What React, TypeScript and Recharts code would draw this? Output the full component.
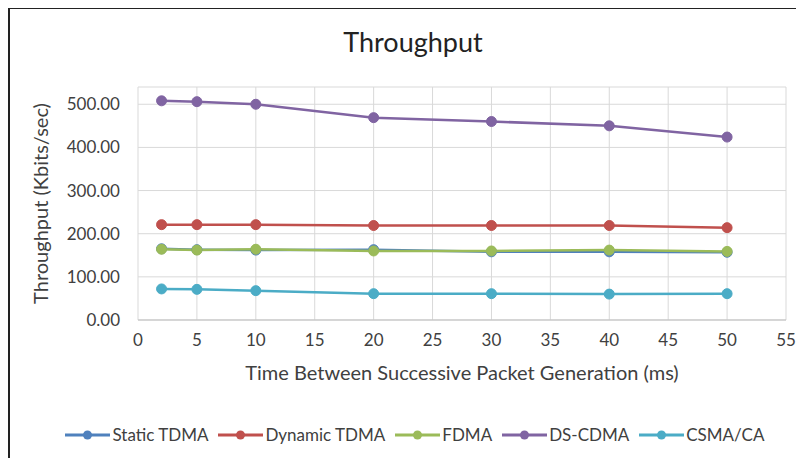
import React from 'react';
import { LineChart, Line, XAxis, YAxis, CartesianGrid, Legend } from 'recharts';

const intervals = [2, 5, 10, 20, 30, 40, 50];
const staticTdma = [165, 163, 162, 163, 158, 158, 157];
const dynamicTdma = [221, 221, 221, 219, 219, 219, 214];
const fdma = [164, 162, 164, 160, 160, 162, 159];
const dsCdma = [508, 506, 500, 469, 460, 450, 424];
const csmaCa = [72, 71, 68, 61, 61, 60, 61];

const xTicks = [0, 5, 10, 15, 20, 25, 30, 35, 40, 45, 50, 55];
const yTicks = [0, 100, 200, 300, 400, 500];

const series = [
  { key: 'staticTdma', name: 'Static TDMA', color: '#4F81BD' },
  { key: 'dynamicTdma', name: 'Dynamic TDMA', color: '#C0504D' },
  { key: 'fdma', name: 'FDMA', color: '#9BBB59' },
  { key: 'dsCdma', name: 'DS-CDMA', color: '#8064A2' },
  { key: 'csmaCa', name: 'CSMA/CA', color: '#4BACC6' },
];

const data = intervals.map((t, i) => ({
  t,
  staticTdma: staticTdma[i],
  dynamicTdma: dynamicTdma[i],
  fdma: fdma[i],
  dsCdma: dsCdma[i],
  csmaCa: csmaCa[i],
}));

const font = 'Lato, "Open Sans", sans-serif';
const textColor = '#404040';

// legend drawn like Excel's: short line with a dot in the middle
function LegendContent() {
  return (
    <div
      style={{
        display: 'flex',
        justifyContent: 'center',
        paddingTop: 40,
        paddingLeft: 44,
        fontFamily: font,
        fontSize: 17,
        color: textColor,
      }}
    >
      {series.map((s) => (
        <div key={s.key} style={{ display: 'flex', alignItems: 'center', marginRight: 10 }}>
          <svg width={45} height={12} style={{ marginRight: 2 }}>
            <line x1={0} y1={6} x2={45} y2={6} stroke={s.color} strokeWidth={3} />
            <circle cx={22.5} cy={6} r={4.5} fill={s.color} />
          </svg>
          <span>{s.name}</span>
        </div>
      ))}
    </div>
  );
}

export default function App() {
  return (
    <div
      style={{
        width: 796,
        height: 452,
        borderTop: '2px solid #222',
        borderLeft: '2px solid #222',
        boxSizing: 'border-box',
        position: 'relative',
        marginTop: -1,
        background: '#fff',
      }}
    >
      <div
        style={{
          position: 'absolute',
          top: 16,
          left: 6,
          width: 794,
          textAlign: 'center',
          fontFamily: font,
          fontSize: 27,
          color: '#222',
        }}
      >
        Throughput
      </div>
      <LineChart
        width={794}
        height={448}
        data={data}
        margin={{ top: 78, right: 18, bottom: 0, left: 0 }}
      >
        <CartesianGrid stroke="#d9d9d9" />
        <XAxis
          dataKey="t"
          type="number"
          domain={[0, 55]}
          ticks={xTicks}
          interval={0}
          tickLine={false}
          axisLine={{ stroke: '#bfbfbf' }}
          tick={{ fill: textColor, fontSize: 17, fontFamily: font }}
          tickMargin={8}
          height={64}
          label={{
            value: 'Time Between  Successive Packet Generation (ms)',
            position: 'insideBottom',
            offset: 4,
            fill: textColor,
            fontSize: 20,
            fontFamily: font,
          }}
        />
        <YAxis
          type="number"
          domain={[0, 540]}
          ticks={yTicks}
          interval={0}
          tickLine={false}
          axisLine={false}
          tickFormatter={(v: number) => v.toFixed(2)}
          tick={{ fill: textColor, fontSize: 17, fontFamily: font }}
          tickMargin={12}
          width={128}
          label={{
            value: 'Throughput (Kbits/sec)',
            angle: -90,
            position: 'insideLeft',
            offset: 31,
            style: { textAnchor: 'middle' },
            fill: textColor,
            fontSize: 20,
            fontFamily: font,
          }}
        />
        <Legend verticalAlign="bottom" height={73} content={<LegendContent />} />
        {series.map((s) => (
          <Line
            key={s.key}
            dataKey={s.key}
            name={s.name}
            stroke={s.color}
            strokeWidth={2.5}
            dot={{ r: 5, fill: s.color, stroke: s.color, strokeWidth: 1 }}
            isAnimationActive={false}
          />
        ))}
      </LineChart>
    </div>
  );
}
